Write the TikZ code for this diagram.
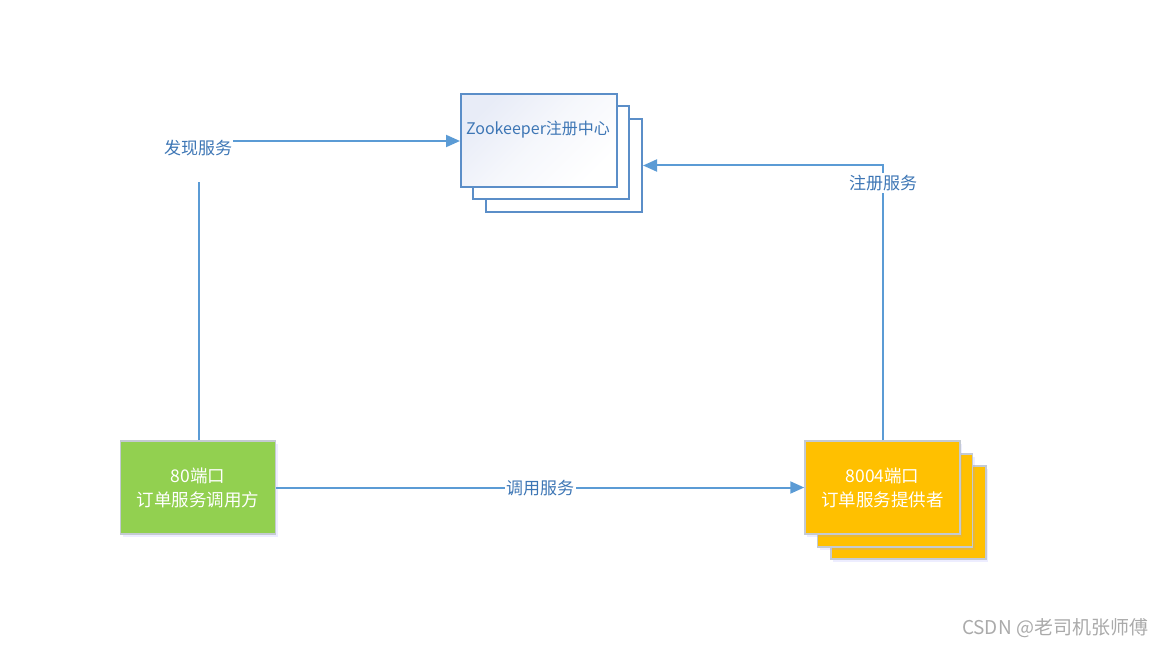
\documentclass[tikz,border=0pt]{standalone}
\usepackage{fontspec}
\setmainfont{Noto Sans CJK SC}
\usetikzlibrary{arrows.meta,shadows}
\definecolor{lineblue}{HTML}{5B9BD5}
\definecolor{lbltext}{HTML}{3D76B5}
\definecolor{zooblue}{HTML}{5B8EC8}
\definecolor{zoofill}{HTML}{E8ECF7}
\definecolor{greenfill}{HTML}{92D050}
\definecolor{orangefill}{HTML}{FFC000}
\definecolor{boxborder}{HTML}{C4CAD2}
\definecolor{wmgrey}{HTML}{AAAAAA}
\begin{document}
\begin{tikzpicture}[x=1pt,y=-1pt,
  conn/.style={draw=lineblue, line width=2pt},
  arr/.style={conn,-{Triangle[length=14pt,width=12pt]}},
  lbl/.style={text=lbltext, font=\fontsize{17}{20}\selectfont, inner sep=1.5pt},
  zoobox/.style={draw=zooblue, line width=2pt, fill=white, minimum width=156pt, minimum height=93pt, inner sep=0pt},
  colbox/.style={draw=boxborder, line width=1.5pt, minimum width=155pt, minimum height=93pt, inner sep=0pt,
     text=white, align=center, font=\fontsize{17.5}{24}\selectfont,
     drop shadow={shadow xshift=2pt, shadow yshift=-3pt, fill=blue!40, opacity=0.18}},
  greenbox/.style={colbox, fill=greenfill},
  orangebox/.style={colbox, fill=orangefill}]
\useasboundingbox (0,0) rectangle (1166,647);

% Zookeeper stack
\node[zoobox] (zoo3) at (564,165.5) {};
\node[zoobox] (zoo2) at (551,152.5) {};
\node[zoobox, top color=zoofill, bottom color=white, middle color=white!60!zoofill, shading angle=45] (zoo) at (539,140.5) {};
\node[text=lbltext, font=\fontsize{16}{20}\selectfont, inner sep=0pt] (zootxt) at (538,130) {Zookeeper注册中心};

% consumer
\node[greenbox] (cons) at (198,487.5) {80端口\\订单服务调用方};

% provider stack
\node[orangebox] (prov3) at (908.5,512.5) {};
\node[orangebox] (prov2) at (895,500.5) {};
\node[orangebox] (prov) at (882.5,487.5) {8004端口\\订单服务提供者};

% discover
\node[lbl] (find) at (198,148) {发现服务};
\coordinate (fa) at (199,182);
\coordinate (fb) at (233,141);
\draw[conn] (cons.north -| fa) -- (fa);
\draw[arr] (fb) -- (zoo.west |- fb);

% register
\draw[arr] (prov.north) |- (zoo3.east);
\node[lbl, fill=white, inner ysep=2pt] (reg) at (883,183) {注册服务};

% invoke
\draw[arr] (cons.east) -- (prov.west);
\node[lbl, fill=white] (call) at (540,488) {调用服务};

% watermark
\node[text=wmgrey, font=\fontsize{19}{22}\selectfont, inner sep=0pt] (wm) at (1055,628) {CSDN @老司机张师傅};
\end{tikzpicture}
\end{document}
